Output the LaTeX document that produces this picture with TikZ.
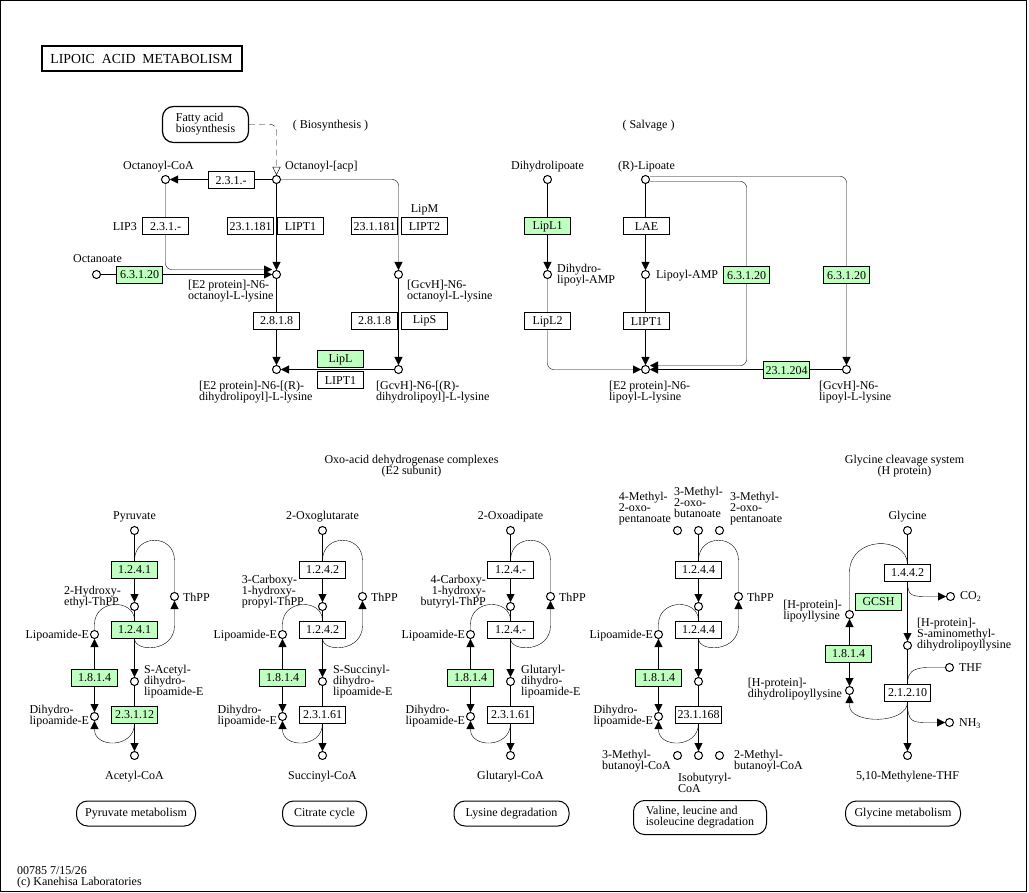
\documentclass[tikz,border=0pt]{standalone}
\usepackage{fontspec}
\setmainfont{Liberation Serif}
\usetikzlibrary{arrows.meta,backgrounds}
\definecolor{kgreen}{RGB}{191,255,191}
\newcommand{\kfont}{\fontsize{12}{11}\selectfont}

\begin{document}
\begin{tikzpicture}[x=1pt,y=-1pt,line width=1.2pt,
  every node/.style={font=\kfont},
  cpd/.style={circle,draw,fill=white,minimum size=8pt,inner sep=0pt,line width=1pt},
  ec/.style={rectangle,draw,fill=white,minimum width=46pt,minimum height=17pt,inner sep=0pt,line width=1pt},
  ecg/.style={ec,fill=kgreen},
  mapbox/.style={draw,rounded corners=11pt,align=left,inner sep=0pt,minimum height=25pt},
  lbl/.style={inner sep=0pt,align=left},
  arr/.style={-{Triangle[length=8pt,width=8pt]}},
  arrb/.style={{Triangle[length=8pt,width=8pt]}-{Triangle[length=8pt,width=8pt]}},
  hollow/.style={dash pattern=on 6pt off 4pt,-{Triangle[open,length=8pt,width=8pt]}}]
\useasboundingbox (-0.5,-0.5) rectangle (1028.5,892.5);
\draw[line width=1pt] (0,0) rectangle (1026,891);
\draw(141,58.5) node[draw,line width=2pt,minimum width=200pt,minimum height=25pt,inner sep=0pt,font=\fontsize{13.8}{14}\selectfont] (title) {LIPOIC~~ACID~~METABOLISM};

% biosynthesis
\draw(205,124) node[mapbox,minimum width=86pt,minimum height=36pt] (fab) {Fatty acid\\biosynthesis};
\draw(330,125) node[lbl] (bios) {( Biosynthesis )};
\draw(165,179) node[cpd] (ocoa) {};
\draw(276,179) node[cpd] (acp) {};
\draw(276,274) node[cpd] (e2oct) {};
\draw(398,274) node[cpd] (gvoct) {};
\draw(276,369) node[cpd] (e2dh) {};
\draw(398,369) node[cpd] (gvdh) {};
\draw(96,274) node[cpd] (octa) {};
\draw(230.5,180) node[ec] (ecoa) {2.3.1.-};
\draw(165,226) node[ec] (elipt) {2.3.1.-};
\draw(139,274.5) node[ecg] (elpla) {6.3.1.20};
\draw(250,226) node[ec] (elipba) {23.1.181};
\draw(300,226) node[ec] (lipta) {LIPT1};
\draw(374,226) node[ec] (elipbb) {23.1.181};
\draw(424,226) node[ec] (liptb) {LIPT2};
\draw(276,320.5) node[ec] (elipaa) {2.8.1.8};
\draw(374,320.5) node[ec] (elipab) {2.8.1.8};
\draw(424,320.5) node[ec] (lips) {LipS};
\draw(340,359) node[ecg] (lipl) {LipL};
\draw(340,380) node[ec] (liptc) {LIPT1};
\draw(158,166) node[lbl] (locoa) {Octanoyl-CoA};
\draw(284,166) node[lbl,anchor=west] (lacp) {Octanoyl-[acp]};
\draw(137,226) node[lbl,anchor=east] (llip3) {LIP3};
\draw(97,258) node[lbl] (locta) {Octanoate};
\draw(424,209) node[lbl] (llipm) {LipM};
\draw(187,291) node[lbl,anchor=west] (le2oct) {[E2 protein]-N6-\\octanoyl-L-lysine};
\draw(406,291) node[lbl,anchor=west] (lgvoct) {[GcvH]-N6-\\octanoyl-L-lysine};
\draw(198,392) node[lbl,anchor=west] (le2dh) {[E2 protein]-N6-[(R)-\\dihydrolipoyl]-L-lysine};
\draw(375,392) node[lbl,anchor=west] (lgvdh) {[GcvH]-N6-[(R)-\\dihydrolipoyl]-L-lysine};

% salvage
\draw(648,125) node[lbl] (salv) {( Salvage )};
\draw(547,179) node[cpd] (dlip) {};
\draw(645,179) node[cpd] (rlip) {};
\draw(547,274) node[cpd] (dlamp) {};
\draw(645,274) node[cpd] (lamp) {};
\draw(645,369) node[cpd] (e2lip) {};
\draw(846,369) node[cpd] (gvlip) {};
\draw(547,226) node[ecg] (lipla) {LipL1};
\draw(646,226) node[ec] (lae) {LAE};
\draw(547,321) node[ec] (liplb) {LipL2};
\draw(646,321) node[ec] (liptd) {LIPT1};
\draw(746,275) node[ecg] (elplb) {6.3.1.20};
\draw(846,275) node[ecg] (elplc) {6.3.1.20};
\draw(786,370) node[ecg] (eoct) {23.1.204};
\draw(547,166) node[lbl] (ldlip) {Dihydrolipoate};
\draw(646,166) node[lbl] (lrlip) {(R)-Lipoate};
\draw(556,275) node[lbl,anchor=west] (ldlamp) {Dihydro-\\lipoyl-AMP};
\draw(655,275) node[lbl,anchor=west] (llamp) {Lipoyl-AMP};
\draw(608,392) node[lbl,anchor=west] (le2lip) {[E2 protein]-N6-\\lipoyl-L-lysine};
\draw(818,392) node[lbl,anchor=west] (lgvlip) {[GcvH]-N6-\\lipoyl-L-lysine};

\begin{scope}[on background layer]
\draw[hollow,rounded corners=6pt] (fab) -| (acp);
\draw[arr] (acp) -- (ocoa);
\draw[arr,rounded corners=6pt] (ocoa) |- ([yshift=5pt]e2oct.west);
\draw[arr] (octa) -- (e2oct);
\draw[arr] (acp) -- (e2oct);
\draw[arr,rounded corners=6pt] (acp) -| (gvoct);
\draw[arr] (e2oct) -- (e2dh);
\draw[arr] (gvoct) -- (gvdh);
\draw[arr] (gvdh) -- (e2dh);
\draw[arr] (dlip) -- (dlamp);
\draw[arr,rounded corners=6pt] (dlamp) |- (e2lip);
\draw[arr] (rlip) -- (lamp);
\draw[arr] (lamp) -- (e2lip);
\draw[arr,rounded corners=6pt] ([yshift=3pt]rlip.east) -| (gvlip);
\draw[arr,rounded corners=6pt] ([yshift=-2pt]rlip.east) -| (elplb.center) |- ([yshift=4pt]e2lip.east);
\draw[arr] (gvlip) -- (e2lip);
\end{scope}

% oxo-acid dehydrogenase complexes
\draw(411,466) node[lbl,align=center] (loxo) {Oxo-acid dehydrogenase complexes\\(E2 subunit)};
\foreach \m/\x/\ea/\eb/\fc in {1/134/1.2.4.1/2.3.1.12/kgreen,2/322/1.2.4.2/2.3.1.61/white,3/510/1.2.4.-/2.3.1.61/white,4/698/1.2.4.4/23.1.168/white}{
  \draw(\x,530) node[cpd] (top\m) {};
  \draw(\x,606) node[cpd] (mid\m) {};
  \draw(\x,681) node[cpd] (acyl\m) {};
  \draw(\x,755) node[cpd] (bot\m) {};
  \draw(\x+40,596) node[cpd] (thpp\m) {};
  \draw(\x-40,634) node[cpd] (lipo\m) {};
  \draw(\x-40,716) node[cpd] (dlipo\m) {};
  \draw(\x,569) node[ec,fill=\fc] (eone\m) {\ea};
  \draw(\x,629) node[ec,fill=\fc] (etwo\m) {\ea};
  \draw(\x-40,677) node[ecg] (dld\m) {1.8.1.4};
  \draw(\x,714) node[ec,fill=\fc] (ethree\m) {\eb};
  \draw(\x+48,597) node[lbl,anchor=west] (lthpp\m) {ThPP};
  \draw(\x-45,635) node[lbl,anchor=east] (llipo\m) {Lipoamide-E};
  \draw(\x-45,716) node[lbl,anchor=east] (ldlipo\m) {Dihydro-\\lipoamide-E};
  \begin{scope}[on background layer]
    \draw[arr] (top\m) -- (mid\m);
    \draw[arr] (mid\m) -- (acyl\m);
    \draw[arr] (acyl\m) -- (bot\m);
    \draw (eone\m.north) .. controls (\x,533) and (\x+40,533) .. (\x+40,560) -- (thpp\m);
    \draw[arr] (etwo\m.south) .. controls (\x,652) and (\x+40,652) .. (\x+40,625) -- (thpp\m);
    \draw (etwo\m.north) .. controls (\x,598) and (\x-40,598) .. (\x-40,624) -- (lipo\m);
    \draw[arrb] (lipo\m) -- (dlipo\m);
    \draw[arr] (ethree\m.south) .. controls (\x,748) and (\x-40,748) .. (\x-40,729) -- (dlipo\m);
  \end{scope}
}
\draw(134,516) node[lbl] (lpyr) {Pyruvate};
\draw(121,596.5) node[lbl,anchor=east] (lhet) {2-Hydroxy-\\ethyl-ThPP};
\draw(143,681) node[lbl,anchor=west] (lsac) {S-Acetyl-\\dihydro-\\lipoamide-E};
\draw(134,776) node[lbl] (laccoa) {Acetyl-CoA};
\draw(322,516) node[lbl] (lakg) {2-Oxoglutarate};
\draw(304,591) node[lbl,anchor=east] (lchp) {3-Carboxy-\\1-hydroxy-\\propyl-ThPP};
\draw(332,681) node[lbl,anchor=west] (lssc) {S-Succinyl-\\dihydro-\\lipoamide-E};
\draw(322,776) node[lbl] (lsuccoa) {Succinyl-CoA};
\draw(510,516) node[lbl] (loxad) {2-Oxoadipate};
\draw(486,591) node[lbl,anchor=east,align=right] (lchb) {4-Carboxy-\\1-hydroxy-\\butyryl-ThPP};
\draw(520,681) node[lbl,anchor=west] (lglt) {Glutaryl-\\dihydro-\\lipoamide-E};
\draw(510,776) node[lbl] (lglutcoa) {Glutaryl-CoA};
\draw(677,530) node[cpd] (mop) {};
\draw(719,530) node[cpd] (mopb) {};
\draw(677,755) node[cpd] (mbcoa) {};
\draw(719,755) node[cpd] (mbcoab) {};
\draw(671,508) node[lbl,anchor=east] (lmop) {4-Methyl-\\2-oxo-\\pentanoate};
\draw(698,501.5) node[lbl] (lmob) {3-Methyl-\\2-oxo-\\butanoate};
\draw(729,508) node[lbl,anchor=west] (lmopb) {3-Methyl-\\2-oxo-\\pentanoate};
\draw(671,760.5) node[lbl,anchor=east] (lmbcoa) {3-Methyl-\\butanoyl-CoA};
\draw(677,782.5) node[lbl,anchor=west] (libcoa) {Isobutyryl-\\CoA};
\draw(733,760.5) node[lbl,anchor=west] (lmbcoab) {2-Methyl-\\butanoyl-CoA};

% glycine cleavage system
\draw(904,466) node[lbl,align=center] (lgcs) {Glycine cleavage system\\(H protein)};
\draw(907,530) node[cpd] (gly) {};
\draw(907,645) node[cpd] (ham) {};
\draw(907,755) node[cpd] (mthf) {};
\draw(950,596) node[cpd] (co2) {};
\draw(949,667) node[cpd] (thf) {};
\draw(949,722) node[cpd] (nh3) {};
\draw(849,614) node[cpd] (hlip) {};
\draw(849,690) node[cpd] (hdlip) {};
\draw(907,572.5) node[ec] (egcp) {1.4.4.2};
\draw(878,601.5) node[ecg] (gcsh) {GCSH};
\draw(848,653) node[ecg] (dldg) {1.8.1.4};
\draw(907,692.5) node[ec] (egct) {2.1.2.10};
\draw(907,516) node[lbl] (lgly) {Glycine};
\draw(959,596) node[lbl,anchor=west] (lco2) {CO\textsubscript{2}};
\draw(958,667) node[lbl,anchor=west] (lthf) {THF};
\draw(958,723) node[lbl,anchor=west] (lnh3) {NH\textsubscript{3}};
\draw(842,611) node[lbl,anchor=east] (lhlip) {[H-protein]-\\lipoyllysine};
\draw(842,688.5) node[lbl,anchor=east] (lhdlip) {[H-protein]-\\dihydrolipoyllysine};
\draw(916,634) node[lbl,anchor=west] (lham) {[H-protein]-\\S-aminomethyl-\\dihydrolipoyllysine};
\draw(907,776) node[lbl] (lmthf) {5,10-Methylene-THF};
\begin{scope}[on background layer]
\draw[arr] (gly) -- (ham);
\draw[arr] (ham) -- (mthf);
\draw (egcp.north) .. controls (906,535) and (849,535) .. (849,572) -- (hlip);
\draw[arr] (egcp.south) .. controls (907,596) and (912,596) .. (928,596) -- (co2);
\draw (thf) -- (928,667) .. controls (911,667) and (907,673) .. (egct.north);
\draw[arr] (egct.south) .. controls (907,722) and (912,722) .. (928,722) -- (nh3);
\draw[arr] (egct.south) .. controls (907,724) and (849,724) .. (849,705) -- (hdlip);
\draw[arrb] (hlip) -- (hdlip);
\end{scope}

% maps
\draw(135.5,813) node[mapbox,line width=1pt,minimum width=119pt] (pyrmap) {Pyruvate metabolism};
\draw(324,813) node[mapbox,line width=1pt,minimum width=84pt] (tcamap) {Citrate cycle};
\draw(511,813) node[mapbox,line width=1pt,minimum width=115pt] (lysmap) {Lysine degradation};
\draw(699.5,817) node[mapbox,line width=1pt,minimum width=133pt,minimum height=34pt] (valmap) {Valine, leucine and\\isoleucine degradation};
\draw(902.5,813) node[mapbox,line width=1pt,minimum width=115pt] (glymap) {Glycine metabolism};
\draw(16,876.5) node[lbl,anchor=west] (foot) {00785 7/15/26\\(c) Kanehisa Laboratories};
\end{tikzpicture}
\end{document}
